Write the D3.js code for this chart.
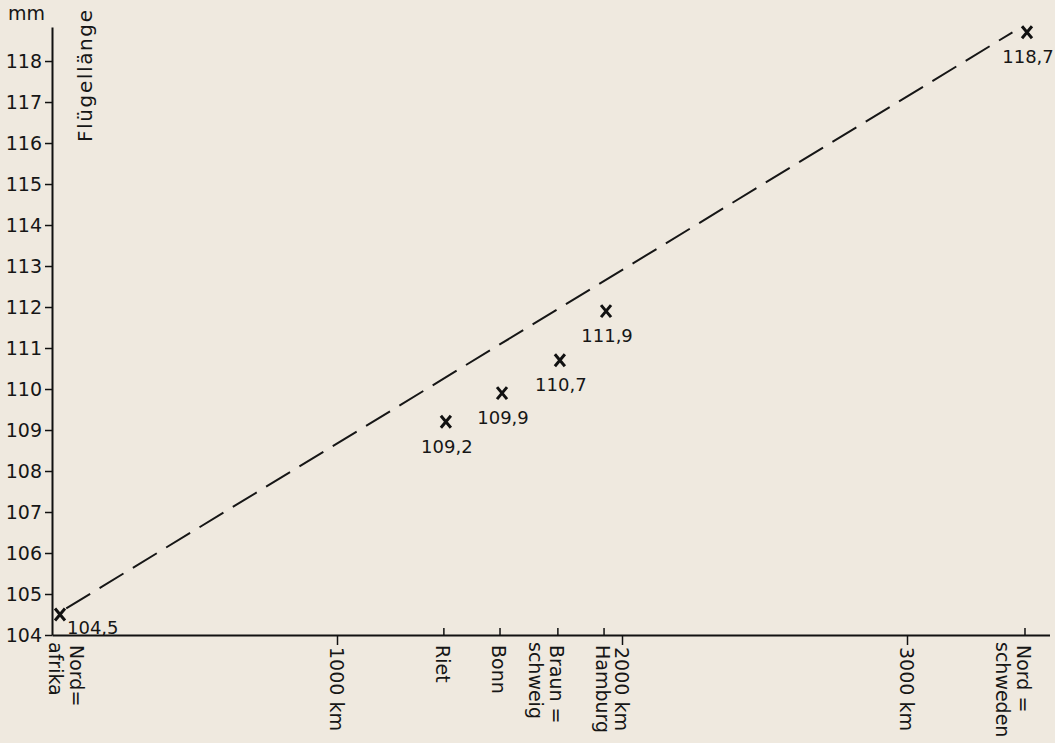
<!DOCTYPE html>
<html>
<head>
<meta charset="utf-8">
<script src="https://cdn.jsdelivr.net/npm/d3@7"></script>
<style>
  body { margin: 0; background: #efe9df; }
  text { font-family: "DejaVu Sans", sans-serif; fill: #161616; }
</style>
</head>
<body>
<div id="chart"></div>
<script>
//// data
var places = ["Nordafrika", "Riet", "Bonn", "Braunschweig", "Hamburg", "Nordschweden"];
var placeKm = [0, 1375, 1572, 1775, 1937, 3414];
var placeLines = [["Nord=", "afrika"], ["Riet"], ["Bonn"], ["Braun =", "schweig"], ["Hamburg"], ["Nord =", "schweden"]];
var wingMm = [104.5, 109.2, 109.9, 110.7, 111.9, 118.7];
var valueLabels = ["104,5", "109,2", "109,9", "110,7", "111,9", "118,7"];

var kmTicks = [1000, 2000, 3000];
var kmLabels = ["1000 km", "2000 km", "3000 km"];
var mmTicks = d3.range(104, 119);

var trendKm = [50, 3370];
var trendMm = [104.65, 118.7];

//// chart
var width = 1055, height = 743;

var svg = d3.select("#chart")
  .append("svg")
    .attr("width", width)
    .attr("height", height);

svg.append("rect")
  .attr("width", width)
  .attr("height", height)
  .attr("fill", "#efe9df");

var xScale = d3.scaleLinear()
  .domain([0, 3500])
  .range([52, 1049.5]);

var yScale = d3.scaleLinear()
  .domain([104, 118.83])
  .range([635, 27]);

// y axis
var yAxis = svg.append("g")
  .attr("transform", "translate(" + xScale(0) + ",0)")
  .call(d3.axisLeft(yScale)
    .tickValues(mmTicks)
    .tickFormat(d3.format("d"))
    .tickSize(7)
    .tickPadding(3)
    .tickSizeOuter(0));
yAxis.select(".domain").attr("stroke", "#111").attr("stroke-width", 2);
yAxis.selectAll(".tick line").attr("stroke", "#111").attr("stroke-width", 1.5);
yAxis.selectAll(".tick text")
  .attr("font-size", 19)
  .attr("font-family", "DejaVu Sans, sans-serif")
  .attr("fill", "#161616");

// x axis line
var xAxis = svg.append("g")
  .attr("transform", "translate(0," + yScale(104) + ")")
  .call(d3.axisBottom(xScale)
    .tickValues(kmTicks)
    .tickFormat("")
    .tickSize(10)
    .tickSizeOuter(0));
xAxis.select(".domain").attr("stroke", "#111").attr("stroke-width", 2);
xAxis.selectAll(".tick line").attr("stroke", "#111").attr("stroke-width", 1.5);

// km labels (rotated)
svg.selectAll(".kmlabel")
  .data(kmTicks)
  .enter()
  .append("text")
  .attr("class", "kmlabel")
  .attr("font-size", 19)
  .attr("transform", function(d){ return "translate(" + (xScale(d) - 7) + ",647) rotate(90)"; })
  .text(function(d, i){ return kmLabels[i]; });

// place ticks (upward) and labels
svg.selectAll(".placetick")
  .data(placeKm.slice(1))
  .enter()
  .append("line")
  .attr("class", "placetick")
  .attr("x1", d => xScale(d))
  .attr("x2", d => xScale(d))
  .attr("y1", yScale(104))
  .attr("y2", yScale(104) - 7)
  .attr("stroke", "#111")
  .attr("stroke-width", 1.5);

placeKm.forEach(function(km, i) {
  var base = xScale(km) + (km === 0 ? 18 : -8);
  placeLines[i].forEach(function(line, j) {
    svg.append("text")
      .attr("font-size", 19)
      .attr("transform", "translate(" + (base - j * 21) + "," + (645 - j * 3) + ") rotate(90)")
      .text(line);
  });
});

// axis titles
svg.append("text")
  .attr("x", 8)
  .attr("y", 20)
  .attr("font-size", 19)
  .text("mm");

svg.append("text")
  .attr("font-size", 20)
  .attr("transform", "translate(92,142) rotate(-90)")
  .attr("textLength", 132)
  .attr("lengthAdjust", "spacing")
  .text("Flügellänge");

//// trend line
var trend = trendKm.map((k, i) => [k, trendMm[i]]);
svg.append("path")
  .datum(trend)
  .attr("fill", "none")
  .attr("stroke", "#161616")
  .attr("stroke-width", 2)
  .attr("stroke-dasharray", "28,11")
  .attr("d", d3.line().x(d => xScale(d[0])).y(d => yScale(d[1])));

//// markers
var pts = placeKm.map((k, i) => ({km: k, mm: wingMm[i], label: valueLabels[i]}));

var marks = svg.selectAll(".mark")
  .data(pts)
  .enter()
  .append("g")
  .attr("class", "mark")
  .attr("transform", function(d){
    var dx = d.km === 0 ? 8 : 2;
    return "translate(" + (xScale(d.km) + dx) + "," + yScale(d.mm) + ")";
  });

marks.append("path")
  .attr("d", "M-5,-6L5,6M-5,6L5,-6")
  .attr("stroke", "#111")
  .attr("stroke-width", 3)
  .attr("fill", "none");

marks.append("text")
  .attr("font-size", 18)
  .attr("text-anchor", d => d.km === 0 ? "start" : "middle")
  .attr("x", d => d.km === 0 ? 7 : 1)
  .attr("y", d => d.km === 0 ? 19 : 31)
  .text(d => d.label);
</script>
</body>
</html>
